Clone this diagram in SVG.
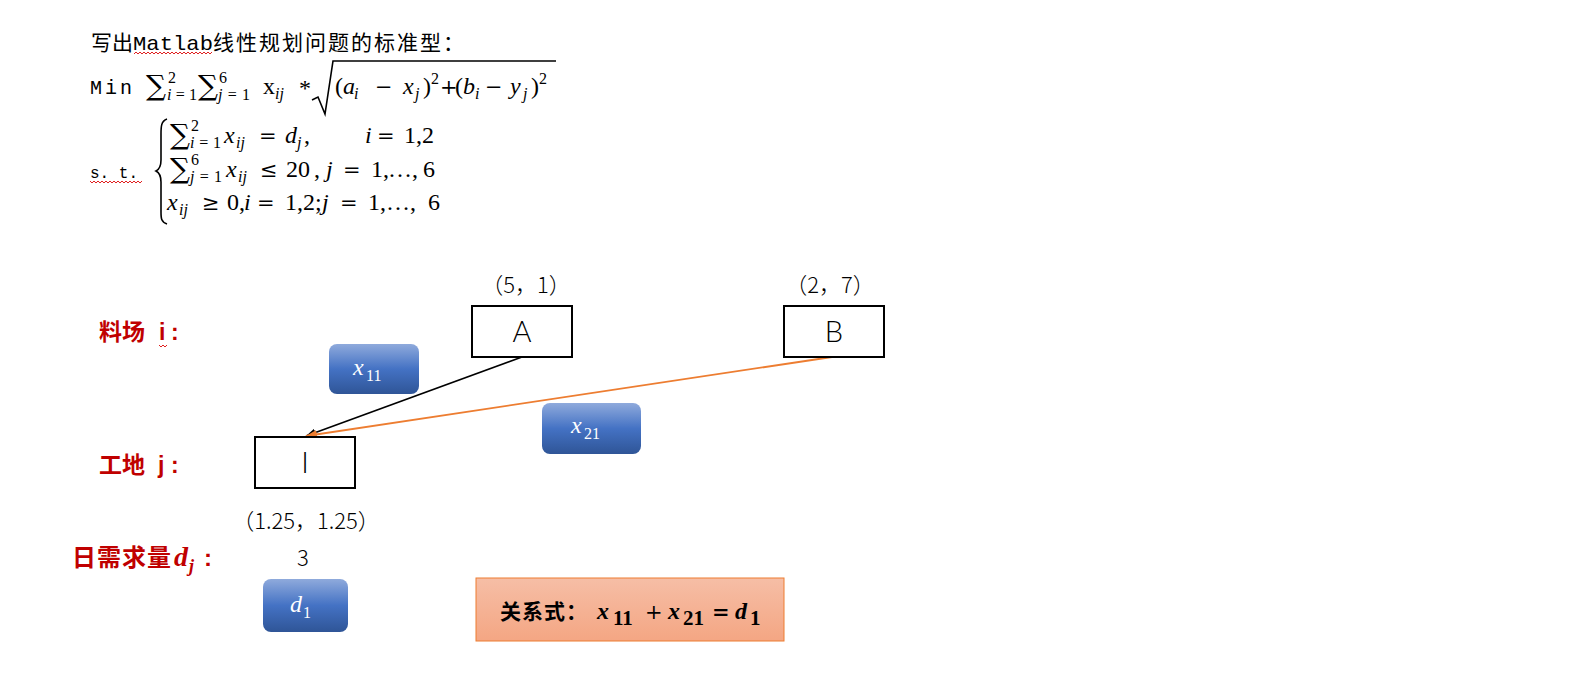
<svg xmlns="http://www.w3.org/2000/svg" width="1584" height="690" viewBox="0 0 1584 690">
<defs>
<style>
.cjk{font-family:"Noto Sans CJK SC","Noto Sans",sans-serif}
.mono{font-family:"Liberation Mono","DejaVu Sans Mono",monospace}
.m{font-family:"Liberation Serif","DejaVu Serif",serif;font-size:24px}
.it{font-style:italic}
.s{font-size:16px}
.op{font-family:"DejaVu Serif","Liberation Serif",serif;font-size:21px}
.sum{font-family:"DejaVu Serif","Liberation Serif",serif;font-size:28px}
.lbl{fill:#C00000;font-weight:bold}
.box{fill:#fff;stroke:#000;stroke-width:2}
.node{font-family:"Lato","Noto Sans",sans-serif;font-weight:300;font-size:29px;text-anchor:middle}
.coord{font-family:"Noto Sans CJK SC",sans-serif;font-weight:300;font-size:22px;text-anchor:middle}
.blue{fill:url(#gb)}
.wt{fill:#fff}
.wavy{fill:none;stroke:#E02020;stroke-width:1}
</style>
<linearGradient id="gb" x1="0" y1="0" x2="0" y2="1">
<stop offset="0" stop-color="#8FAADC"/>
<stop offset="0.5" stop-color="#4472C4"/>
<stop offset="1" stop-color="#2F5597"/>
</linearGradient>
<linearGradient id="go" x1="0" y1="0" x2="0" y2="1">
<stop offset="0" stop-color="#F6BEA6"/>
<stop offset="1" stop-color="#F4A683"/>
</linearGradient>
<marker id="ab" viewBox="0 0 10 8" refX="10" refY="4" markerWidth="10" markerHeight="8" markerUnits="userSpaceOnUse" orient="auto"><path d="M0,0 L10,4 L0,8 z" fill="#000"/></marker>
<marker id="ao" viewBox="0 0 10 8" refX="10" refY="4" markerWidth="11" markerHeight="9" markerUnits="userSpaceOnUse" orient="auto"><path d="M0,0 L10,4 L0,8 z" fill="#ED7D31"/></marker>
</defs>
<rect width="1584" height="690" fill="#fff"/>

<g id="formula">
<text class="cjk" x="91" y="50" font-size="21">写出</text>
<text class="mono" x="133" y="50" font-size="21" textLength="80" lengthAdjust="spacingAndGlyphs">Matlab</text>
<text class="cjk" x="213" y="50" font-size="21" letter-spacing="2">线性规划问题的标准型：</text>
<path class="wavy" d="M134,54 l2,-2 l2,2 l2,-2 l2,2 l2,-2 l2,2 l2,-2 l2,2 l2,-2 l2,2 l2,-2 l2,2 l2,-2 l2,2 l2,-2 l2,2 l2,-2 l2,2 l2,-2 l2,2 l2,-2 l2,2 l2,-2 l2,2 l2,-2 l2,2 l2,-2 l2,2 l2,-2 l2,2 l2,-2 l2,2 l2,-2 l2,2 l2,-2 l2,2 l2,-2 l2,2 l2,-2"/>

<text class="mono" x="90" y="94" font-size="20" letter-spacing="3">Min</text>
<text class="sum" x="146" y="95">∑</text>
<text class="m s" x="168" y="83">2</text>
<text class="m s" x="167" y="100" textLength="30"><tspan class="it">i</tspan>=1</text>
<text class="sum" x="198" y="95">∑</text>
<text class="m s" x="219" y="83">6</text>
<text class="m s" x="218" y="100" textLength="32"><tspan class="it">j</tspan>=1</text>
<text class="m" x="263" y="94">x</text>
<text class="m s it" x="275" y="99">ij</text>
<text class="m" x="299" y="96">*</text>
<path d="M312,100 L318,97 L325,114 L333,61 L556,61" fill="none" stroke="#000" stroke-width="1.6"/>
<text class="m" y="94"><tspan x="335">(</tspan><tspan x="343" class="it">a</tspan><tspan x="354" y="99" class="it s">i</tspan><tspan x="375" y="94" class="op">−</tspan><tspan x="403" class="it">x</tspan><tspan x="415" y="99" class="it s">j</tspan><tspan x="423" y="94">)</tspan><tspan x="431" y="84" class="s">2</tspan><tspan x="440" y="94" class="op">+</tspan><tspan x="455">(</tspan><tspan x="463" class="it">b</tspan><tspan x="475" y="99" class="it s">i</tspan><tspan x="485" y="94" class="op">−</tspan><tspan x="510" class="it">y</tspan><tspan x="523" y="99" class="it s">j</tspan><tspan x="531" y="94">)</tspan><tspan x="539" y="84" class="s">2</tspan></text>

<text class="mono" x="90" y="178" font-size="16">s. t.</text>
<path class="wavy" d="M90,181 l2,2 l2,-2 l2,2 l2,-2 l2,2 l2,-2 l2,2 l2,-2 l2,2 l2,-2 l2,2 l2,-2 l2,2 l2,-2 l2,2 l2,-2 l2,2 l2,-2 l2,2 l2,-2 l2,2 l2,-2 l2,2 l2,-2 l2,2 l2,-2"/>
<path d="M167,119 C161,121 161,127 161,134 L161,160 C161,166 160,169 156,171 C160,173 161,176 161,182 L161,212 C161,218 161,222 167,224" fill="none" stroke="#000" stroke-width="1.6"/>

<text class="sum" x="170" y="144">∑</text>
<text class="m s" x="191" y="131">2</text>
<text class="m s" x="190" y="148" textLength="31"><tspan class="it">i</tspan>=1</text>
<text class="m" y="143"><tspan x="224" class="it">x</tspan><tspan x="236" y="148" class="it s">ij</tspan><tspan x="259" y="143" class="op">=</tspan><tspan x="285" class="it">d</tspan><tspan x="297" y="148" class="it s">j</tspan><tspan x="304" y="143">,</tspan><tspan x="365" class="it">i</tspan><tspan x="377" class="op">=</tspan><tspan x="404">1,2</tspan></text>

<text class="sum" x="170" y="178">∑</text>
<text class="m s" x="191" y="165">6</text>
<text class="m s" x="190" y="182" textLength="32"><tspan class="it">j</tspan>=1</text>
<text class="m" y="177"><tspan x="226" class="it">x</tspan><tspan x="238" y="182" class="it s">ij</tspan><tspan x="260" y="177" class="op">≤</tspan><tspan x="286">20</tspan><tspan x="314">,</tspan><tspan x="326" class="it">j</tspan><tspan x="343" class="op">=</tspan><tspan x="371">1,</tspan><tspan x="388">…</tspan><tspan x="412">,</tspan><tspan x="423">6</tspan></text>

<text class="m" y="210"><tspan x="167" class="it">x</tspan><tspan x="179" y="215" class="it s">ij</tspan><tspan x="202" y="210" class="op">≥</tspan><tspan x="227">0,</tspan><tspan x="244" class="it">i</tspan><tspan x="257" class="op">=</tspan><tspan x="285">1,2;</tspan><tspan x="322" class="it">j</tspan><tspan x="340" class="op">=</tspan><tspan x="368">1,</tspan><tspan x="386">…</tspan><tspan x="410">,</tspan><tspan x="428">6</tspan></text>
</g>

<g id="labels">
<text class="cjk lbl" x="99" y="340" font-size="23">料场</text>
<text class="lbl" x="159" y="340" font-size="23" font-family="Liberation Sans, sans-serif">i</text>
<text class="lbl" x="171" y="340" font-size="23" font-family="Liberation Sans, sans-serif">:</text>
<path class="wavy" d="M159,345 l2,2 l2,-2 l2,2 l2,-2"/>
<text class="cjk lbl" x="99" y="473" font-size="23">工地</text>
<text class="lbl" x="158" y="473" font-size="23" font-family="Liberation Sans, sans-serif">j</text>
<text class="lbl" x="171" y="473" font-size="23" font-family="Liberation Sans, sans-serif">:</text>
<text class="cjk lbl" x="72" y="566" font-size="24" letter-spacing="1">日需求量</text>
<text class="lbl it" x="174" y="566" font-size="28" font-family="Liberation Serif, serif">d</text>
<text class="lbl it" x="189" y="572" font-size="18" font-family="Liberation Serif, serif">j</text>
<text class="lbl" x="204" y="566" font-size="24" font-family="Liberation Sans, sans-serif">:</text>
</g>

<g id="connectors">
<line x1="522" y1="357" x2="306" y2="436" stroke="#000" stroke-width="1.6" marker-end="url(#ab)"/>
<line x1="832" y1="357" x2="306" y2="436" stroke="#ED7D31" stroke-width="1.8" marker-end="url(#ao)"/>
</g>

<g id="node-A">
<text class="coord" x="526" y="293" font-size="23">（5，1）</text>
<rect class="box" x="472" y="306" width="100" height="51"/>
<text class="node" x="522" y="342">A</text>
</g>
<g id="node-B">
<text class="coord" x="830" y="293" font-size="23">（2，7）</text>
<rect class="box" x="784" y="306" width="100" height="51"/>
<text class="node" x="834" y="342">B</text>
</g>
<g id="node-I">
<rect class="box" x="255" y="437" width="100" height="51"/>
<text class="node" x="305" y="473">I</text>
<text class="coord" x="306" y="529" font-size="23">（1.25，1.25）</text>
<text class="coord" x="303" y="566" font-size="20" font-weight="400">3</text>
</g>

<g id="x11">
<rect class="blue" x="329" y="344" width="90" height="50" rx="8"/>
<text class="m it wt" x="353" y="375" font-size="25">x</text>
<text class="m s wt" x="366" y="381" font-size="17">11</text>
</g>
<g id="x21">
<rect class="blue" x="542" y="403" width="99" height="51" rx="8"/>
<text class="m it wt" x="571" y="433" font-size="25">x</text>
<text class="m s wt" x="584" y="439" font-size="17">21</text>
</g>
<g id="d1">
<rect class="blue" x="263" y="579" width="85" height="53" rx="8"/>
<text class="m it wt" x="290" y="612" font-size="25">d</text>
<text class="m s wt" x="303" y="618" font-size="17">1</text>
</g>

<g id="relation">
<rect x="476" y="578" width="308" height="63" fill="url(#go)" stroke="#ED7D31" stroke-width="1"/>
<text class="cjk" x="500" y="619" font-size="21" font-weight="bold" letter-spacing="1">关系式：</text>
<text class="m" y="619" font-weight="bold" font-size="25"><tspan x="597" class="it">x</tspan><tspan x="613" y="625" font-size="21">11</tspan><tspan x="645" y="619" class="op" font-weight="normal">+</tspan><tspan x="668" class="it">x</tspan><tspan x="683" y="625" font-size="21">21</tspan><tspan x="712" y="619" class="op">=</tspan><tspan x="735" class="it">d</tspan><tspan x="750" y="625" font-size="21">1</tspan></text>
</g>
</svg>
